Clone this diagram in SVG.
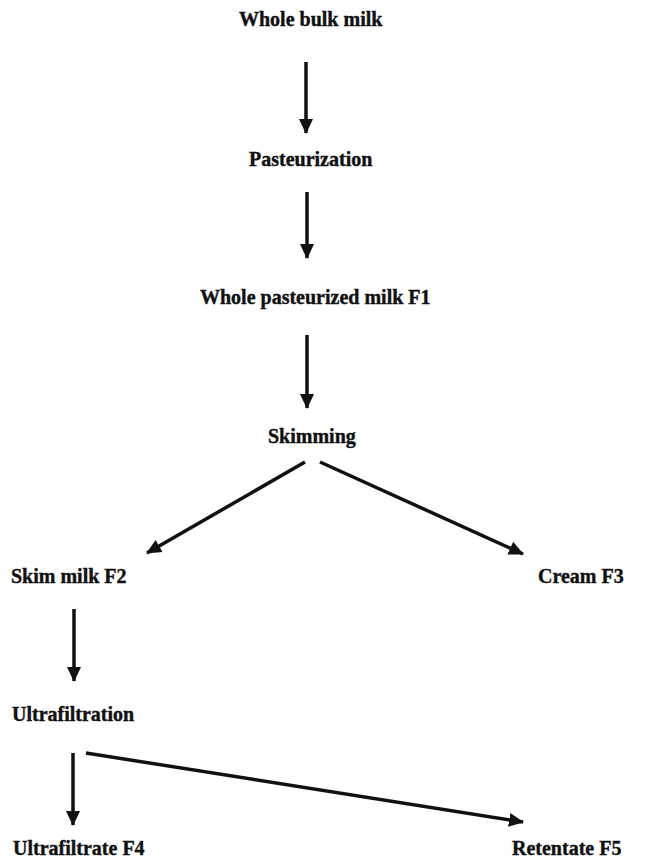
<svg xmlns="http://www.w3.org/2000/svg" width="649" height="859" viewBox="0 0 649 859">
<style>
text{font-family:"Liberation Serif","Times New Roman",serif;font-weight:bold;font-size:20px;fill:#111;stroke:#111;stroke-width:0.4}
.c line{stroke:#111;stroke-width:3.5}
</style>
<defs>
<marker id="ah" markerUnits="userSpaceOnUse" markerWidth="16" markerHeight="16" refX="14" refY="8" orient="auto">
<path d="M0,1 L15,8 L0,15 Z" fill="#111"/>
</marker>
</defs>
<rect width="649" height="859" fill="#fff"/>
<g id="n1"><text x="239" y="26">Whole bulk milk</text></g>
<g id="n2"><text x="249" y="166">Pasteurization</text></g>
<g id="n3"><text x="200" y="304">Whole pasteurized milk F1</text></g>
<g id="n4"><text x="268" y="443">Skimming</text></g>
<g id="n5"><text x="11" y="583">Skim milk F2</text></g>
<g id="n6"><text x="538" y="583">Cream F3</text></g>
<g id="n7"><text x="12" y="721">Ultrafiltration</text></g>
<g id="n8"><text x="13" y="855">Ultrafiltrate F4</text></g>
<g id="n9"><text x="512" y="855">Retentate F5</text></g>
<g class="c" id="connectors">
<line x1="306" y1="62" x2="306" y2="133" marker-end="url(#ah)"/>
<line x1="307" y1="192" x2="307" y2="258" marker-end="url(#ah)"/>
<line x1="307" y1="335" x2="307" y2="408" marker-end="url(#ah)"/>
<line x1="305" y1="462" x2="147" y2="553" marker-end="url(#ah)"/>
<line x1="320" y1="462" x2="523" y2="554" marker-end="url(#ah)"/>
<line x1="74" y1="609" x2="74" y2="681" marker-end="url(#ah)"/>
<line x1="73" y1="753" x2="73" y2="825" marker-end="url(#ah)"/>
<line x1="86" y1="753" x2="523" y2="822" marker-end="url(#ah)"/>
</g>
</svg>
